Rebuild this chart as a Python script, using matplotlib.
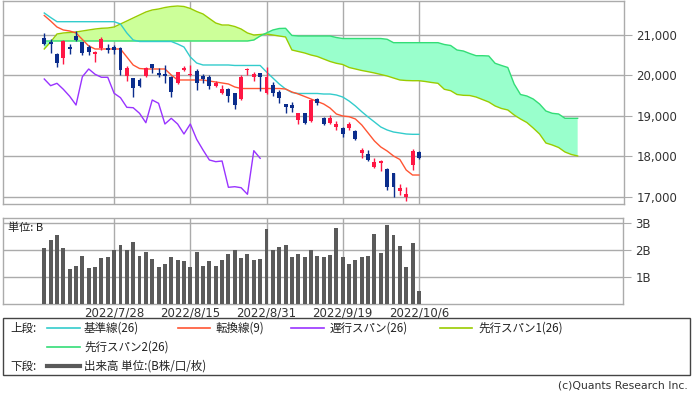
import matplotlib
matplotlib.use("Agg")
import matplotlib.pyplot as plt
from matplotlib.lines import Line2D
from matplotlib.patches import Rectangle
from matplotlib.ticker import FuncFormatter
import numpy as np

plt.rcParams['font.family'] = ['DejaVu Sans', 'Noto Sans CJK JP']

# ---------------- data ----------------
date_labels = ["2022/7/28", "2022/8/15", "2022/8/31", "2022/9/19", "2022/10/6"]
date_label_idx = [11, 23, 35, 47, 59]

open_ = [20918, 20834, 20530, 20424, 20711, 20983, 20819, 20711, 20530, 20671,
         20671, 20711, 20671, 19986, 19929, 19887, 19993, 20275, 20067, 20035,
         19968, 19805, 20134, 20010, 20109, 19986, 19968, 19746, 19558, 19657,
         19558, 19409, 20134, 19954, 20053, 19558, 19763, 19597, 19286, 19268,
         18897, 19063, 18880, 19409, 18947, 18816, 18731, 18692, 18692, 18632,
         18073, 18049, 17742, 17841, 17685, 17578, 17148, 17000, 17784, 18113]
close = [20770, 20770, 20300, 20852, 20654, 20876, 20547, 20572, 20587, 20894,
         20629, 20629, 20134, 20176, 19681, 19746, 20176, 20176, 20010, 19993,
         19597, 20077, 20176, 20035, 19820, 19911, 19746, 19805, 19657, 19484,
         19268, 19968, 20159, 20028, 19954, 19954, 19558, 19449, 19211, 19201,
         19063, 18830, 19392, 19310, 18798, 18939, 18798, 18551, 18798, 18420,
         18155, 17908, 17866, 17883, 17232, 17247, 17222, 17059, 18138, 17950]
high = [21042, 20894, 20547, 20870, 20777, 21106, 20834, 20753, 20600, 20943,
        20770, 20753, 20711, 20233, 19940, 19929, 20201, 20283, 20176, 20258,
        19975, 20092, 20233, 20258, 20151, 20035, 20010, 19870, 19763, 19681,
        19570, 20010, 20176, 20092, 20067, 20201, 19845, 19639, 19295, 19350,
        19070, 19078, 19409, 19434, 18979, 19021, 18880, 18717, 18855, 18640,
        18197, 18155, 17950, 17908, 17702, 17594, 17314, 17232, 18172, 18130]
low = [20753, 20547, 20216, 20283, 20530, 20860, 20505, 20505, 20340, 20629,
       20547, 20530, 20010, 19862, 19474, 19706, 19968, 20067, 19968, 19820,
       19474, 19788, 20117, 19986, 19639, 19805, 19657, 19706, 19533, 19350,
       19162, 19400, 20010, 19870, 19622, 19550, 19491, 19325, 19063, 19102,
       18798, 18798, 18855, 19268, 18773, 18798, 18650, 18469, 18650, 18402,
       17950, 17890, 17702, 17643, 17165, 17000, 17042, 16901, 17660, 17932]

volume_b = [2.06, 2.38, 2.54, 2.06, 1.30, 1.42, 1.78, 1.33, 1.37, 1.70,
            1.74, 1.99, 2.19, 1.99, 2.31, 1.78, 1.94, 1.67, 1.37, 1.49,
            1.74, 1.62, 1.58, 1.37, 1.94, 1.42, 1.58, 1.42, 1.62, 1.86,
            2.01, 1.70, 1.85, 1.62, 1.65, 2.78, 2.01, 2.10, 2.17, 1.73,
            1.85, 1.73, 2.01, 1.78, 1.73, 1.81, 2.83, 1.74, 1.49, 1.62,
            1.73, 1.78, 2.58, 1.89, 2.94, 2.54, 2.14, 1.37, 2.26, 0.48]

kijun = [21544, 21433, 21329, 21329, 21329, 21329, 21329, 21329, 21329, 21329,
         21329, 21329, 21272, 21050, 20876, 20839, 20839, 20839, 20839, 20839,
         20839, 20777, 20703, 20456, 20307, 20258, 20258, 20258, 20258, 20258,
         20246, 20246, 20246, 20246, 20246, 20085, 19936, 19788, 19664, 19578,
         19553, 19553, 19553, 19553, 19540, 19540, 19516, 19466, 19367, 19244,
         19102, 18971, 18848, 18724, 18650, 18600, 18576, 18551, 18543, 18543]

tenkan = [21483, 21346, 21198, 21124, 21099, 21050, 20889, 20728, 20654, 20654,
          20654, 20654, 20654, 20456, 20258, 20171, 20159, 20159, 20159, 20159,
          20010, 19887, 19887, 19887, 19887, 19887, 19862, 19837, 19813, 19788,
          19714, 19676, 19676, 19676, 19676, 19676, 19676, 19676, 19664, 19590,
          19540, 19479, 19417, 19355, 19293, 19194, 19046, 18996, 18979, 18922,
          18774, 18576, 18378, 18229, 18130, 18007, 17920, 17660, 17536, 17536]

senkou1 = [20654, 20827, 21025, 21050, 21062, 21074, 21099, 21124, 21148, 21166,
           21173, 21198, 21272, 21346, 21421, 21495, 21569, 21619, 21643, 21680,
           21705, 21717, 21705, 21656, 21581, 21520, 21408, 21297, 21247, 21247,
           21210, 21148, 21050, 21000, 21012, 21025, 21000, 20975, 20951, 20629,
           20592, 20555, 20505, 20468, 20406, 20345, 20300, 20270, 20196, 20159,
           20122, 20092, 20060, 20023, 19986, 19936, 19887, 19874, 19869, 19869,
           19850, 19825, 19805, 19657, 19622, 19528, 19508, 19503, 19466, 19404,
           19342, 19244, 19182, 19145, 19021, 18922, 18835, 18699, 18551, 18328,
           18279, 18217, 18106, 18044, 18007]

senkou2 = [20852, 20852, 20852, 20852, 20852, 20852, 20852, 20852, 20852, 20852,
           20852, 20852, 20852, 20852, 20852, 20852, 20852, 20852, 20852, 20852,
           20852, 20852, 20852, 20852, 20852, 20852, 20852, 20852, 20852, 20852,
           20852, 20852, 20852, 20876, 20975, 21050, 21124, 21161, 21166, 20988,
           20975, 20975, 20975, 20975, 20975, 20975, 20938, 20913, 20913, 20913,
           20913, 20913, 20913, 20913, 20894, 20810, 20810, 20810, 20810, 20810,
           20810, 20810, 20810, 20765, 20740, 20629, 20604, 20542, 20488, 20488,
           20481, 20300, 20246, 20196, 19788, 19528, 19491, 19417, 19293, 19120,
           19063, 19046, 18939, 18939, 18939]

chikou_shift = 25

# ---------------- styling ----------------
W, H = 693, 393
GRID = '#ababab'
UP = '#ff1744'
DOWN = '#0b2d8c'
C_KIJUN = '#33cccc'
C_TENKAN = '#ff5533'
C_CHIKOU = '#9933ff'
C_SPAN1 = '#99cc00'
C_SPAN2 = '#33dd77'
FILL1 = '#ccff99'
FILL2 = '#99ffcc'
VOLC = '#5a5a5a'


def fx(x):
    return x / W


def fy(y):
    return 1 - y / H


fig = plt.figure(figsize=(W / 100, H / 100), dpi=100)
fig.patch.set_facecolor('white')

ax = fig.add_axes([fx(3), fy(204), (624 - 3) / W, (204 - 1) / H])
axv = fig.add_axes([fx(3), fy(304), (623 - 3) / W, (304 - 218) / H])

n = len(close)
idx = np.arange(n)
idx_fwd = np.arange(len(senkou1))
s1 = np.array(senkou1, float)
s2 = np.array(senkou2, float)

# cloud
ax.fill_between(idx_fwd, s1, s2, where=s1 >= s2, interpolate=True,
                color=FILL1, linewidth=0, zorder=2)
ax.fill_between(idx_fwd, s1, s2, where=s1 < s2, interpolate=True,
                color=FILL2, linewidth=0, zorder=2)
ax.plot(idx_fwd, s1, color=C_SPAN1, lw=1, zorder=3)
ax.plot(idx_fwd, s2, color=C_SPAN2, lw=1, zorder=3)

ax.plot(idx, kijun, color=C_KIJUN, lw=1, zorder=4)
ax.plot(idx, tenkan, color=C_TENKAN, lw=1, zorder=4)
ch_x = idx[:n - chikou_shift]
ch_y = np.array(close)[chikou_shift:]
ax.plot(ch_x, ch_y, color=C_CHIKOU, lw=1, zorder=4)

# candles
o = np.array(open_, float)
c = np.array(close, float)
hi = np.array(high, float)
lo = np.array(low, float)
cols = [UP if cc > oo else DOWN for oo, cc in zip(o, c)]
ax.vlines(idx, lo, hi, colors=cols, lw=1, zorder=5)
bottoms = np.minimum(o, c)
heights = np.maximum(np.abs(c - o), 18)
ax.bar(idx, heights, bottom=bottoms, width=0.62, color=cols, linewidth=0, zorder=6)

ax.set_xlim(-6.5, 91.3)
ax.set_ylim(16819, 21841)
ax.set_yticks([17000, 18000, 19000, 20000, 21000])
ax.yaxis.set_major_formatter(FuncFormatter(lambda v, p: f"{v:,.0f}"))
ax.yaxis.tick_right()
ax.set_xticks(date_label_idx)
ax.set_xticklabels([])
ax.tick_params(axis='x', length=0)
ax.tick_params(axis='y', length=6, color=GRID, labelsize=8.5, labelcolor='#333333', pad=3)
ax.grid(True, color=GRID, lw=1)
ax.set_axisbelow(True)
for sp in ax.spines.values():
    sp.set_color(GRID)
    sp.set_linewidth(1)

# volume
axv.bar(idx, volume_b, width=0.62, color=VOLC, linewidth=0, zorder=3)
axv.set_xlim(-6.5, 91.3 * (620 / 621) + (-6.5) * (1 / 621))
axv.set_ylim(0, 3.185)
axv.set_yticks([1, 2, 3])
axv.set_yticklabels(["1B", "2B", "3B"])
axv.yaxis.tick_right()
axv.set_xticks(date_label_idx)
axv.set_xticklabels(date_labels)
axv.tick_params(axis='x', length=0, labelsize=8.5, labelcolor='#333333', pad=2)
axv.tick_params(axis='y', length=6, color=GRID, labelsize=8.5, labelcolor='#333333', pad=3)
axv.grid(True, color=GRID, lw=1)
axv.set_axisbelow(True)
for sp in axv.spines.values():
    sp.set_color(GRID)
    sp.set_linewidth(1)
axv.text(0.008, 0.95, "単位: B", transform=axv.transAxes, ha='left', va='top',
         fontsize=8, color='#222222', family=['Noto Sans CJK JP', 'DejaVu Sans'])

# legend box
fig.add_artist(Rectangle((fx(3), fy(375)), (690 - 3) / W, (375 - 318) / H,
                         transform=fig.transFigure, fill=False, ec='#444444', lw=1))
jp = ['Noto Sans CJK JP', 'DejaVu Sans']


def leg_line(x0, x1, y, color, lw=1.2):
    fig.add_artist(Line2D([fx(x0), fx(x1)], [fy(y), fy(y)], transform=fig.transFigure,
                          color=color, lw=lw))


def leg_text(x, y, s):
    fig.text(fx(x), fy(y), s, ha='left', va='center', fontsize=8.3, color='#222222', family=jp)


r1, r2, r3 = 328, 347, 366
leg_text(10, r1, "上段:")
leg_line(47, 80, r1, C_KIJUN)
leg_text(84, r1, "基準線(26)")
leg_line(178, 210, r1, C_TENKAN)
leg_text(216, r1, "転換線(9)")
leg_line(291, 324, r1, C_CHIKOU)
leg_text(330, r1, "遅行スパン(26)")
leg_line(440, 472, r1, C_SPAN1)
leg_text(478, r1, "先行スパン1(26)")
leg_line(47, 80, r2, C_SPAN2)
leg_text(84, r2, "先行スパン2(26)")
leg_text(10, r3, "下段:")
leg_line(47, 80, r3, VOLC, lw=3)
leg_text(84, r3, "出来高 単位:(B株/口/枚)")

fig.text(fx(688), fy(386), "(c)Quants Research Inc.", ha='right', va='center',
         fontsize=7.8, color='#333333')

fig.savefig("out.png", dpi=100)
